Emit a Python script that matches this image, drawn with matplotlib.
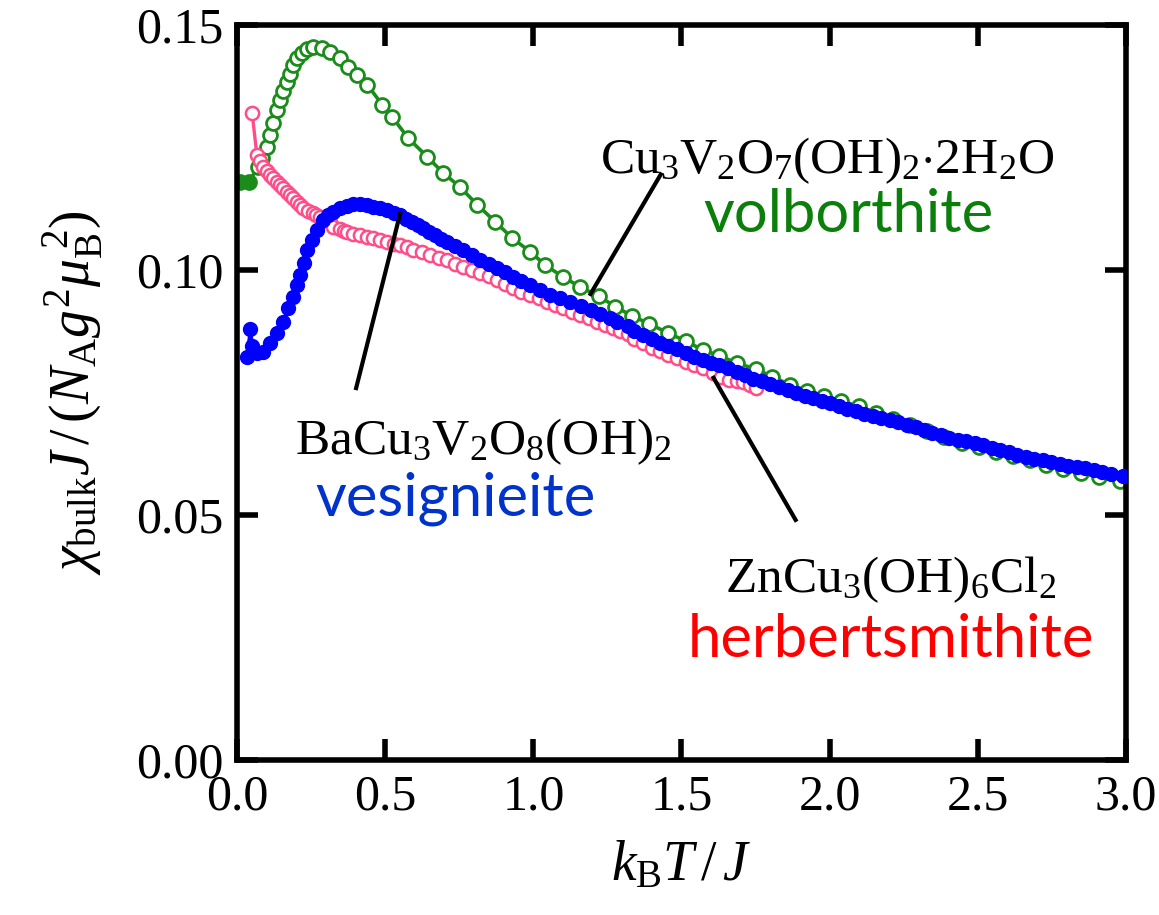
import numpy as np
import matplotlib
matplotlib.use('Agg')
import matplotlib.pyplot as plt

plt.rcParams['font.family'] = ['Liberation Serif', 'DejaVu Serif']
plt.rcParams['mathtext.fontset'] = 'custom'
plt.rcParams['mathtext.rm'] = 'Liberation Serif'
plt.rcParams['mathtext.it'] = 'Liberation Serif:italic'
plt.rcParams['mathtext.bf'] = 'Liberation Serif:bold'

# volborthite, Cu3V2O7(OH)2.2H2O
t_vol = [0.01, 0.04, 0.071, 0.085, 0.10, 0.11, 0.12, 0.135, 0.145, 0.155, 0.168, 0.18,
         0.19, 0.203, 0.22, 0.237, 0.257, 0.287, 0.314, 0.348, 0.375, 0.405, 0.44, 0.49,
         0.524, 0.578, 0.642, 0.696, 0.753, 0.811, 0.872, 0.929, 0.99, 1.04, 1.10, 1.159,
         1.22, 1.277, 1.334, 1.392, 1.456, 1.514, 1.571, 1.628, 1.686, 1.75, 1.807, 1.865,
         1.922, 1.98, 2.037, 2.098, 2.155, 2.213, 2.27, 2.328, 2.387, 2.446, 2.503, 2.561,
         2.618, 2.676, 2.731, 2.787, 2.848, 2.909, 2.98]
chi_vol = [0.1180, 0.1180, 0.1210, 0.1228, 0.1250, 0.1275, 0.1300, 0.1327, 0.1347, 0.1365,
           0.1384, 0.1400, 0.1418, 0.1432, 0.1443, 0.1450, 0.1455, 0.1453, 0.1445, 0.1433,
           0.1414, 0.1398, 0.1378, 0.1337, 0.1312, 0.1269, 0.1231, 0.1198, 0.1169, 0.1133,
           0.1098, 0.1065, 0.1037, 0.1010, 0.0986, 0.0965, 0.0947, 0.0925, 0.0906, 0.0890,
           0.0871, 0.0855, 0.0837, 0.0825, 0.0810, 0.0798, 0.0782, 0.0766, 0.0754, 0.0743,
           0.0733, 0.0722, 0.0708, 0.0696, 0.0684, 0.0671, 0.0659, 0.0647, 0.0638, 0.0629,
           0.0621, 0.0612, 0.0603, 0.0594, 0.0586, 0.0578, 0.0570]

# vesignieite, BaCu3V2O8(OH)2
t_ves = [0.034, 0.045, 0.052, 0.067, 0.088, 0.111, 0.135, 0.155, 0.172, 0.19, 0.203, 0.213,
         0.225, 0.236, 0.253, 0.27, 0.29, 0.307, 0.324, 0.347, 0.371, 0.393, 0.416, 0.437,
         0.459, 0.483, 0.507, 0.529, 0.551, 0.571, 0.591, 0.61, 0.628, 0.649, 0.669, 0.689,
         0.709, 0.736, 0.764, 0.793, 0.821, 0.85, 0.878, 0.905, 0.932, 0.96, 0.99, 1.023,
         1.057, 1.09, 1.125, 1.16, 1.193, 1.226, 1.26, 1.284, 1.318, 1.341, 1.37, 1.399,
         1.427, 1.456, 1.485, 1.514, 1.542, 1.571, 1.6, 1.628, 1.657, 1.686, 1.714, 1.743,
         1.772, 1.80, 1.83, 1.858, 1.887, 1.916, 1.945, 1.973, 2.0, 2.03, 2.06, 2.088,
         2.117, 2.145, 2.174, 2.203, 2.23, 2.26, 2.29, 2.318, 2.346, 2.375, 2.404, 2.432,
         2.46, 2.49, 2.518, 2.547, 2.576, 2.605, 2.633, 2.662, 2.69, 2.72, 2.748, 2.777,
         2.805, 2.834, 2.863, 2.892, 2.92, 2.95, 2.99]
chi_ves = [0.0822, 0.0880, 0.0845, 0.0830, 0.0833, 0.0851, 0.0871, 0.0894, 0.0922, 0.0945,
           0.0970, 0.0990, 0.1015, 0.1040, 0.1061, 0.1082, 0.1102, 0.1112, 0.1118, 0.1127,
           0.1131, 0.1134, 0.1135, 0.1133, 0.1129, 0.1126, 0.1122, 0.1117, 0.1112, 0.1105,
           0.1098, 0.1092, 0.1086, 0.1078, 0.1071, 0.1064, 0.1057, 0.1049, 0.1041, 0.1030,
           0.1020, 0.1012, 0.1004, 0.0995, 0.0986, 0.0978, 0.0970, 0.0960, 0.0949, 0.0942,
           0.0935, 0.0926, 0.0918, 0.0910, 0.0902, 0.0894, 0.0885, 0.0876, 0.0867, 0.0859,
           0.0852, 0.0845, 0.0838, 0.0831, 0.0823, 0.0816, 0.0811, 0.0806, 0.0799, 0.0792,
           0.0785, 0.0778, 0.0773, 0.0767, 0.0761, 0.0755, 0.0749, 0.0743, 0.0738, 0.0733,
           0.0728, 0.0722, 0.0717, 0.0712, 0.0707, 0.0702, 0.0698, 0.0694, 0.0689, 0.0684,
           0.0679, 0.0674, 0.0668, 0.0663, 0.0658, 0.0653, 0.0650, 0.0647, 0.0642, 0.0637,
           0.0633, 0.0629, 0.0623, 0.0618, 0.0615, 0.0612, 0.0608, 0.0604, 0.0601, 0.0598,
           0.0595, 0.0592, 0.0588, 0.0584, 0.0580]

# herbertsmithite, ZnCu3(OH)6Cl2
t_her = [0.051, 0.067, 0.078, 0.088, 0.10, 0.111, 0.123, 0.135, 0.145, 0.155, 0.167, 0.179,
         0.19, 0.203, 0.213, 0.223, 0.24, 0.257, 0.268, 0.28, 0.297, 0.314, 0.324, 0.347,
         0.36, 0.371, 0.393, 0.416, 0.437, 0.459, 0.483, 0.507, 0.529, 0.551, 0.573, 0.595,
         0.623, 0.652, 0.68, 0.709, 0.736, 0.764, 0.793, 0.821, 0.85, 0.878, 0.905, 0.932,
         0.96, 0.99, 1.018, 1.047, 1.074, 1.101, 1.13, 1.159, 1.188, 1.216, 1.243, 1.27,
         1.294, 1.318, 1.341, 1.37, 1.399, 1.427, 1.456, 1.485, 1.514, 1.542, 1.571, 1.605,
         1.635, 1.662, 1.686, 1.709, 1.73, 1.75]
chi_her = [0.1320, 0.1235, 0.1222, 0.1210, 0.1202, 0.1194, 0.1187, 0.1180, 0.1174, 0.1167,
           0.1160, 0.1153, 0.1146, 0.1139, 0.1133, 0.1127, 0.1121, 0.1116, 0.1112, 0.1108,
           0.1103, 0.1098, 0.1088, 0.1083, 0.1080, 0.1078, 0.1074, 0.1071, 0.1068, 0.1065,
           0.1061, 0.1057, 0.1054, 0.1051, 0.1046, 0.1041, 0.1036, 0.1030, 0.1025, 0.1020,
           0.1013, 0.1006, 0.1000, 0.0994, 0.0987, 0.0980, 0.0971, 0.0963, 0.0956, 0.0949,
           0.0942, 0.0935, 0.0928, 0.0922, 0.0915, 0.0908, 0.0901, 0.0894, 0.0888, 0.0882,
           0.0875, 0.0869, 0.0860, 0.0851, 0.0841, 0.0834, 0.0827, 0.0820, 0.0812, 0.0806,
           0.0800, 0.0790, 0.0782, 0.0776, 0.0773, 0.0771, 0.0765, 0.0759]

fig = plt.figure(figsize=(11.59, 9.15), dpi=100)
ax = fig.add_axes([0.2045, 0.1694, 0.767, 0.8033])

ax.plot(t_vol, chi_vol, '-o', color='#1a8c1a', lw=2.6, ms=10, mfc='white', mec='#1a8c1a',
        mew=2.0, zorder=2)
ax.plot(t_vol[:2], chi_vol[:2], 'o-', color='#1a8c1a', lw=4, ms=10, zorder=2)
ax.plot(t_her, chi_her, '-o', color='#ff4d88', lw=2.4, ms=9.5, mfc='white', mec='#ff4d88',
        mew=1.8, zorder=3)
ax.plot(t_ves, chi_ves, '-o', color='#0000ff', lw=2.4, ms=10, mfc='#0000ff', mec='#0000ff',
        zorder=4)

ax.set_xlim(0, 3.0)
ax.set_ylim(0, 0.15)
ax.set_xticks([0.0, 0.5, 1.0, 1.5, 2.0, 2.5, 3.0])
ax.set_yticks([0.00, 0.05, 0.10, 0.15])
ax.set_xticklabels(['0.0', '0.5', '1.0', '1.5', '2.0', '2.5', '3.0'])
ax.set_yticklabels(['0.00', '0.05', '0.10', '0.15'])
ax.tick_params(direction='in', length=15, width=4, labelsize=36, pad=10,
               top=True, right=True)
for s in ax.spines.values():
    s.set_linewidth(4)

ax.set_xlabel(r'$k_\mathrm{B}T\,/\,J$', fontsize=40, labelpad=14)
ax.set_ylabel(r'$\chi_\mathrm{bulk}J\,/\,(N_\mathrm{A}g^{2}\mu_\mathrm{B}^{\;2})$', fontsize=40,
              labelpad=22)

# leader lines
ax.plot([1.193, 1.43], [0.0951, 0.1195], color='black', lw=3, zorder=5)
ax.plot([0.551, 0.402], [0.1116, 0.0759], color='black', lw=3, zorder=5)
ax.plot([1.608, 1.885], [0.0780, 0.0490], color='black', lw=3, zorder=5)

# compound names
ax.text(1.99, 0.1224, r'$\mathrm{Cu_3V_2O_7(OH)_2{\cdot}2H_2O}$', fontsize=37,
        ha='center', va='center')
ax.text(2.064, 0.1112, 'volborthite', fontsize=43, color='#0a7f0a', family='Lato',
        ha='center', va='center')
ax.text(0.831, 0.0650, r'$\mathrm{BaCu_3V_2O_8(OH)_2}$', fontsize=37,
        ha='center', va='center')
ax.text(0.736, 0.0533, 'vesignieite', fontsize=43, color='#0033cc', family='Lato',
        ha='center', va='center')
ax.text(2.206, 0.0368, r'$\mathrm{ZnCu_3(OH)_6Cl_2}$', fontsize=37,
        ha='center', va='center')
ax.text(2.206, 0.0245, 'herbertsmithite', fontsize=43, color='#ff0000', family='Lato',
        ha='center', va='center')

fig.savefig('out.png', dpi=100)
